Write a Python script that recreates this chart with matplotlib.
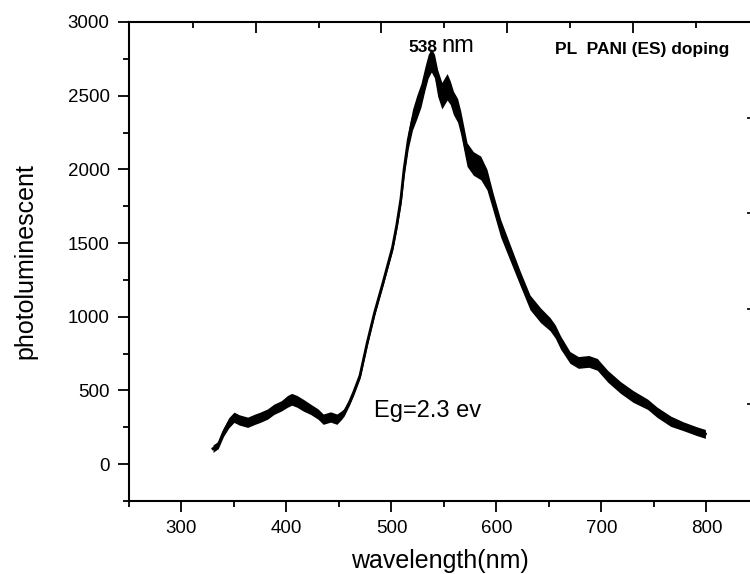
#PL spectrum of PANI (ES) doping, redrawn from the published figure
import matplotlib.pyplot as plt
from matplotlib.ticker import MultipleLocator

plt.rcParams['font.family'] = ['Liberation Sans', 'DejaVu Sans']

#wavelength (nm) and intensity
wavelength = [330, 335, 340, 345, 350, 355, 363, 370, 375, 382, 388, 395, 401, 405,
              410, 416, 423, 430, 435, 442, 448, 452, 455, 460, 464, 470, 477, 484,
              492, 501, 505, 509, 512, 516, 520, 524, 528, 532, 535, 538, 541, 544,
              548, 553, 556, 559, 563, 566, 572, 578, 585, 591, 597, 604, 613, 623,
              632, 642, 651, 656, 661, 670, 678, 688, 696, 706, 718, 730, 744, 753,
              766, 778, 791, 799]
intensity = [105, 130, 217, 280, 318, 300, 284, 305, 318, 340, 372, 395, 426, 440,
             426, 400, 372, 340, 305, 320, 305, 330, 352, 420, 487, 600, 826, 1030,
             1232, 1470, 1620, 1800, 2000, 2200, 2336, 2420, 2500, 2620, 2700, 2740, 2700, 2586,
             2500, 2560, 2520, 2451, 2400, 2316, 2100, 2040, 2010, 1930, 1774, 1600, 1435, 1253,
             1097, 1010, 950, 900, 826, 724, 690, 697, 677, 596, 521, 460, 406, 352,
             291, 257, 223, 205]
#half width of the noise band around the trace
spread = [25, 25, 30, 35, 35, 35, 35, 35, 35, 35, 35, 35, 40, 40,
          40, 40, 35, 35, 35, 35, 35, 30, 25, 20, 20, 20, 20, 20,
          20, 25, 30, 40, 50, 60, 70, 80, 80, 80, 80, 80, 80, 90,
          90, 90, 80, 80, 80, 80, 80, 80, 80, 70, 60, 60, 55, 50,
          50, 50, 45, 45, 45, 40, 40, 40, 40, 40, 40, 40, 35, 35,
          35, 30, 30, 30]

top_major = [370.5, 490.5, 610.5, 730.5]
top_minor = [310.5, 430.5, 550.5, 670.5, 790.5]
right_marks = [406, 1056, 1706, 2349]

fig = plt.figure(figsize=(7.5, 5.74), dpi=100)
ax = fig.add_axes([0.172, 0.1272, 0.828, 0.8345])

lower = [v - s for v, s in zip(intensity, spread)]
upper = [v + s for v, s in zip(intensity, spread)]
ax.fill_between(wavelength, lower, upper, color='black', linewidth=0)
_ = ax.plot(wavelength, intensity, color='black', linewidth=2)

ax.set_xlim(250, 841.5)
ax.set_ylim(-250, 3000)
ax.xaxis.set_major_locator(MultipleLocator(100))
ax.xaxis.set_minor_locator(MultipleLocator(50))
ax.yaxis.set_major_locator(MultipleLocator(500))
ax.yaxis.set_minor_locator(MultipleLocator(250))
ax.set_xticks(range(300, 801, 100))
ax.tick_params(which='major', direction='out', length=8, width=1.3, labelsize=13.5, pad=6)
ax.tick_params(which='minor', direction='out', length=4.5, width=1.3)
ax.tick_params(top=False, right=False)
for side in ['left', 'bottom', 'top']:
    ax.spines[side].set_linewidth(1.5)
ax.spines['right'].set_visible(False)

#ticks along the top spine belong to a different scale in the original
top = ax.secondary_xaxis('top')
top.set_xticks(top_major)
top.set_xticks(top_minor, minor=True)
top.tick_params(which='major', direction='in', length=8, width=1.3, labeltop=False)
top.tick_params(which='minor', direction='in', length=4, width=1.3)
top.spines['top'].set_visible(False)

right = ax.secondary_yaxis('right')
right.set_yticks(right_marks)
right.tick_params(direction='in', length=2.5, width=1.2, labelright=False)
right.spines['right'].set_visible(False)

_ = ax.set_xlabel('wavelength(nm)', fontsize=18, labelpad=8)
_ = ax.set_ylabel('photoluminescent', fontsize=18, labelpad=22)

ax.text(529.5, 2830, '538', fontsize=12.5, fontweight='bold', ha='center', va='center')
ax.text(548, 2838, 'nm', fontsize=17, ha='left', va='center')
ax.text(483, 359, 'Eg=2.3 ev', fontsize=17, ha='left', va='center')
ax.text(656, 2810, 'PL  PANI (ES) doping', fontsize=12.5, fontweight='bold', ha='left', va='center')

plt.savefig('out.png', dpi=100)
